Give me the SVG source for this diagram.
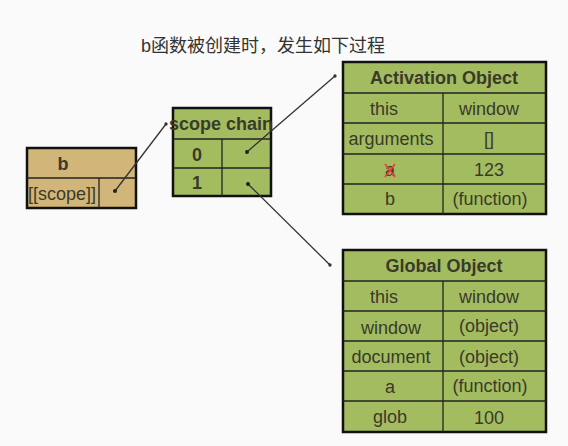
<svg xmlns="http://www.w3.org/2000/svg" width="568" height="446" viewBox="0 0 568 446">
<defs>
<marker id="dot" viewBox="0 0 6 6" refX="3" refY="3" markerWidth="6" markerHeight="6" markerUnits="userSpaceOnUse"><circle cx="3" cy="3" r="2" fill="#222"/></marker>
<marker id="tip" viewBox="0 0 6 6" refX="3" refY="3" markerWidth="5" markerHeight="5" markerUnits="userSpaceOnUse"><circle cx="3" cy="3" r="2" fill="#333"/></marker>
</defs>
<style>
.g{fill:#a4bc60;stroke:#111;stroke-width:2.5}
.t{fill:#d2b679;stroke:#111;stroke-width:2.5}
.ln{stroke:#222;stroke-width:1.3}
text{font-family:"Liberation Sans",Arial,sans-serif;font-size:18px;fill:#3a3a2a;text-anchor:middle}
.h{font-weight:bold;font-size:18px}
.ttl{font-family:"Liberation Sans","Noto Sans CJK SC",sans-serif;fill:#333;text-anchor:start;font-size:18px}
.c{stroke:#333;stroke-width:1.3;fill:none}
</style>
<rect width="568" height="446" fill="#fafafa"/>
<text class="ttl" x="141" y="52">b函数被创建时，发生如下过程</text>
<g id="b">
<rect class="t" x="27" y="148" width="109" height="60"/>
<line class="ln" x1="27" y1="178" x2="136" y2="178"/>
<line class="ln" x1="99" y1="178" x2="99" y2="208"/>
<text class="h" x="63" y="170">b</text>
<text x="62" y="200">[[scope]]</text>
</g>
<g id="scopechain">
<rect class="g" x="173" y="108" width="98" height="88"/>
<line class="ln" x1="173" y1="139" x2="271" y2="139"/>
<line class="ln" x1="173" y1="168" x2="271" y2="168"/>
<line class="ln" x1="222" y1="139" x2="222" y2="196"/>
<text class="h" x="221" y="130">scope chain</text>
<text class="h" x="197" y="161">0</text>
<text class="h" x="197" y="189">1</text>
</g>
<g id="ao">
<rect class="g" x="343" y="62" width="203" height="152"/>
<line class="ln" x1="343" y1="93" x2="546" y2="93"/>
<line class="ln" x1="343" y1="123" x2="546" y2="123"/>
<line class="ln" x1="343" y1="154" x2="546" y2="154"/>
<line class="ln" x1="343" y1="184" x2="546" y2="184"/>
<line class="ln" x1="443" y1="93" x2="443" y2="214"/>
<text class="h" x="444" y="84">Activation Object</text>
<text x="384" y="115">this</text><text x="489" y="115">window</text>
<text x="391" y="145">arguments</text><text x="489" y="145">[]</text>
<text x="390" y="176">a</text><text x="489" y="176">123</text>
<path d="M385 164 L395 177 M395 164 L385 177" stroke="#e8403a" stroke-width="1.8" fill="none"/>
<text x="390" y="205">b</text><text x="490" y="205">(function)</text>
</g>
<g id="go">
<rect class="g" x="343" y="250" width="203" height="182"/>
<line class="ln" x1="343" y1="281" x2="546" y2="281"/>
<line class="ln" x1="343" y1="311" x2="546" y2="311"/>
<line class="ln" x1="343" y1="341" x2="546" y2="341"/>
<line class="ln" x1="343" y1="371" x2="546" y2="371"/>
<line class="ln" x1="343" y1="401" x2="546" y2="401"/>
<line class="ln" x1="443" y1="281" x2="443" y2="432"/>
<text class="h" x="444" y="272">Global Object</text>
<text x="384" y="303">this</text><text x="489" y="303">window</text>
<text x="391" y="334">window</text><text x="489" y="332">(object)</text>
<text x="391" y="363">document</text><text x="489" y="363">(object)</text>
<text x="390" y="393">a</text><text x="490" y="392">(function)</text>
<text x="390" y="423">glob</text><text x="489" y="424">100</text>
</g>
<g id="connectors">
<line class="c" x1="115" y1="191" x2="166" y2="124" marker-start="url(#dot)" marker-end="url(#tip)"/>
<line class="c" x1="247" y1="152" x2="335" y2="76" marker-start="url(#dot)" marker-end="url(#tip)"/>
<line class="c" x1="248" y1="184" x2="330" y2="265" marker-start="url(#dot)" marker-end="url(#tip)"/>
</g>
</svg>
